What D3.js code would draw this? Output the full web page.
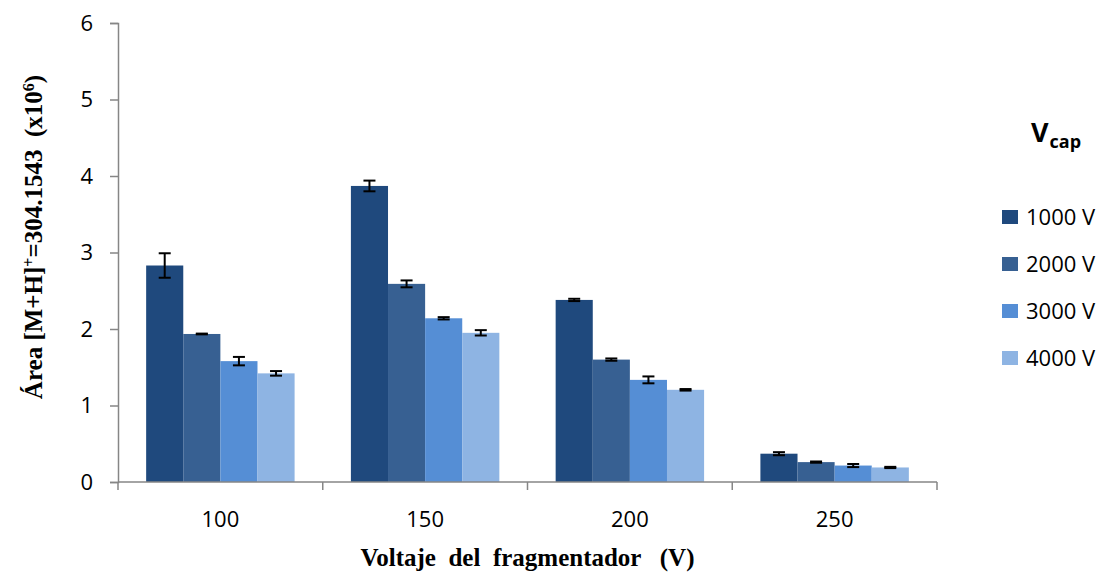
<!DOCTYPE html>
<html>
<head>
<meta charset="utf-8">
<script src="https://cdn.jsdelivr.net/npm/d3@7"></script>
<style>
  html, body { margin: 0; padding: 0; background: #ffffff; }
  svg { display: block; }
</style>
</head>
<body>
<svg id="chart" width="1103" height="572"></svg>
<script>
// Fragmentor voltage groups and capillary voltage series
const categories = ["100", "150", "200", "250"];
const seriesNames = ["1000 V", "2000 V", "3000 V", "4000 V"];
const values1000 = [2.83, 3.87, 2.38, 0.37];
const values2000 = [1.935, 2.59, 1.60, 0.26];
const values3000 = [1.58, 2.14, 1.335, 0.215];
const values4000 = [1.42, 1.95, 1.205, 0.19];
const errors1000 = [0.16, 0.07, 0.015, 0.02];
const errors2000 = [0.005, 0.045, 0.015, 0.008];
const errors3000 = [0.055, 0.015, 0.045, 0.02];
const errors4000 = [0.03, 0.035, 0.01, 0.008];
const yTicks = [0, 1, 2, 3, 4, 5, 6];
const colors = ["#1f497d", "#376092", "#558ed5", "#8eb4e3"];

const seriesValues = [values1000, values2000, values3000, values4000];
const seriesErrors = [errors1000, errors2000, errors3000, errors4000];

const svg = d3.select("#chart");
const plotLeft = 118, plotRight = 937, plotTop = 23, plotBottom = 482;
const axisColor = "#868686";
const sansFont = "'Open Sans', 'Noto Sans', sans-serif";
const serifFont = "'Liberation Serif', 'DejaVu Serif', serif";

const x = d3.scaleBand().domain(categories).range([plotLeft, plotRight])
  .paddingInner(0.275).paddingOuter(0.1375);
const xInner = d3.scaleBand().domain(d3.range(seriesNames.length))
  .range([0, x.bandwidth()]);
const y = d3.scaleLinear().domain([0, 6]).range([plotBottom, plotTop]);

// Rows: one per (category, series)
const rows = [];
categories.forEach((c, i) => {
  seriesNames.forEach((s, j) => {
    rows.push({ cat: c, s: j, v: seriesValues[j][i], e: seriesErrors[j][i] });
  });
});

// Bars
svg.append("g").selectAll("rect").data(rows).join("rect")
  .attr("x", d => x(d.cat) + xInner(d.s))
  .attr("y", d => y(d.v))
  .attr("width", xInner.bandwidth())
  .attr("height", d => y(0) - y(d.v))
  .attr("fill", d => colors[d.s]);

// Error bars
const capHalf = 6;
const eg = svg.append("g").attr("stroke", "#000").attr("stroke-width", 2);
rows.forEach(d => {
  const cx = x(d.cat) + xInner(d.s) + xInner.bandwidth() / 2;
  const y1 = y(d.v + d.e), y2 = y(d.v - d.e);
  eg.append("line").attr("x1", cx).attr("x2", cx).attr("y1", y1).attr("y2", y2);
  eg.append("line").attr("x1", cx - capHalf).attr("x2", cx + capHalf).attr("y1", y1).attr("y2", y1);
  eg.append("line").attr("x1", cx - capHalf).attr("x2", cx + capHalf).attr("y1", y2).attr("y2", y2);
});

// Y axis
const yAxis = svg.append("g").attr("transform", `translate(${plotLeft},0)`)
  .call(d3.axisLeft(y).tickValues(yTicks).tickSize(8).tickPadding(17).tickFormat(d3.format("d")));
yAxis.select(".domain").attr("stroke", axisColor).attr("stroke-width", 1.5);
yAxis.selectAll(".tick line").attr("stroke", axisColor).attr("stroke-width", 1.5);
yAxis.selectAll(".tick text").attr("font-family", sansFont).attr("font-size", 22).attr("fill", "#000");

// X axis: ticks at category boundaries
const xg = svg.append("g");
xg.append("line").attr("x1", plotLeft).attr("x2", plotRight).attr("y1", plotBottom).attr("y2", plotBottom)
  .attr("stroke", axisColor).attr("stroke-width", 1.5);
const boundaries = categories.map(c => x(c) - x.step() * x.paddingInner() / 2)
  .concat([plotRight]);
xg.selectAll("line.tick").data(boundaries).join("line").attr("class", "tick")
  .attr("x1", d => d).attr("x2", d => d).attr("y1", plotBottom).attr("y2", plotBottom + 8)
  .attr("stroke", axisColor).attr("stroke-width", 1.5);
xg.selectAll("text").data(categories).join("text")
  .attr("x", d => x(d) + x.bandwidth() / 2).attr("y", 527)
  .attr("text-anchor", "middle")
  .attr("font-family", sansFont).attr("font-size", 22).attr("fill", "#000")
  .text(d => d);

// X axis title
svg.append("text")
  .attr("x", (plotLeft + plotRight) / 2).attr("y", 566)
  .attr("text-anchor", "middle")
  .attr("font-family", serifFont).attr("font-weight", "bold").attr("font-size", 25)
  .style("white-space", "pre")
  .text("Voltaje  del  fragmentador   (V)");

// Y axis title
const yt = svg.append("text")
  .attr("transform", "translate(42,237) rotate(-90)")
  .attr("text-anchor", "middle")
  .attr("font-family", serifFont).attr("font-weight", "bold").attr("font-size", 25)
  .style("white-space", "pre");
yt.append("tspan").text("Área [M+H]");
yt.append("tspan").attr("baseline-shift", "super").attr("font-size", 16).text("+");
yt.append("tspan").text("=304.1543  (x10");
yt.append("tspan").attr("baseline-shift", "super").attr("font-size", 16).text("6");
yt.append("tspan").text(")");

// Legend
const lg = svg.append("g");
const title = lg.append("text").attr("x", 1031).attr("y", 142)
  .attr("font-family", sansFont).attr("font-weight", "bold").attr("font-size", 27).attr("fill", "#000");
title.append("tspan").text("V");
title.append("tspan").attr("dx", 1).attr("baseline-shift", "-6").attr("font-size", 18).text("cap");

const legendY = [217, 264, 311, 358];
seriesNames.forEach((s, j) => {
  lg.append("rect").attr("x", 1002).attr("y", legendY[j] - 7).attr("width", 16).attr("height", 14)
    .attr("fill", colors[j]);
  lg.append("text").attr("x", 1026).attr("y", legendY[j] + 8)
    .attr("font-family", sansFont).attr("font-size", 22).attr("fill", "#000")
    .text(s);
});
</script>
</body>
</html>
